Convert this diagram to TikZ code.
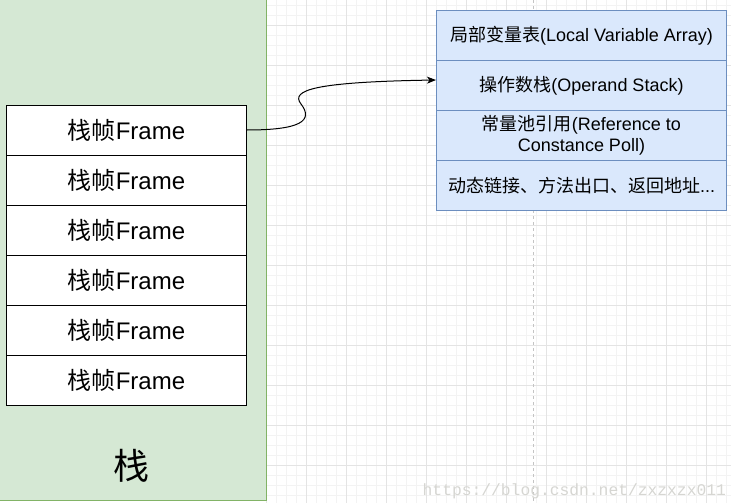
\documentclass[tikz,border=0pt]{standalone}
\usepackage{fontspec}
\setmainfont{Liberation Sans}
\newfontfamily\cjk{Noto Sans CJK SC}
\newfontfamily\wmfont{Liberation Mono}
\usetikzlibrary{arrows.meta}
\definecolor{gfill}{HTML}{D5E8D4}
\definecolor{gstroke}{HTML}{82B366}
\definecolor{bfill}{HTML}{DAE8FC}
\definecolor{bstroke}{HTML}{6C8EBF}
\definecolor{gridminor}{HTML}{F3F3F3}
\definecolor{gridmajor}{HTML}{E4E4E4}
\definecolor{pagebreak}{HTML}{C4C4C4}
\definecolor{wmgray}{HTML}{D6D6D2}
\tikzset{
  framebox/.style={draw=black, fill=white, line width=1pt, inner sep=0pt,
    minimum width=240pt, minimum height=50pt,
    font=\fontsize{24}{28}\selectfont},
  rowbox/.style={draw=bstroke, fill=bfill, line width=1pt, inner sep=0pt,
    minimum width=290pt, minimum height=50pt, align=center,
    font=\fontsize{18}{20.7}\selectfont},
  minorline/.style={draw=gridminor, line width=0.8pt},
  majorline/.style={draw=gridmajor, line width=0.8pt},
  link/.style={draw=black, line width=1pt, -{Stealth[length=9pt,width=7pt,inset=2.5pt]}},
}
\begin{document}
\begin{tikzpicture}[x=1pt, y=-1pt]
\useasboundingbox (0,0) rectangle (731,503);
\clip (0,0) rectangle (731,503);
\fill[white] (0,0) rectangle (731,503);
% grid
\foreach \x in {266,276,...,736} \draw[minorline] (\x,0) -- (\x,503);
\foreach \y in {5,15,...,505} \draw[minorline] (0,\y) -- (731,\y);
\foreach \x in {266,306,...,746} \draw[majorline] (\x,0) -- (\x,503);
\foreach \y in {25,65,...,505} \draw[majorline] (0,\y) -- (731,\y);
% page break line
\draw[pagebreak, line width=0.8pt, dash pattern=on 3pt off 3pt] (533.3,0) -- (533.3,503);
% stack container
\node[draw=gstroke, fill=gfill, line width=1pt, inner sep=0pt,
  minimum width=276.5pt, minimum height=510.5pt, anchor=south east] (stack) at (266.5,500.5) {};
\node[font=\fontsize{36}{40}\selectfont\cjk] (stacklabel) at (131.5,466) {栈};
% frames
\node[framebox] (f1) at (126.5,130) {{\cjk 栈帧}Frame};
\node[framebox] (f2) at (126.5,180) {{\cjk 栈帧}Frame};
\node[framebox] (f3) at (126.5,230) {{\cjk 栈帧}Frame};
\node[framebox] (f4) at (126.5,280) {{\cjk 栈帧}Frame};
\node[framebox] (f5) at (126.5,330) {{\cjk 栈帧}Frame};
\node[framebox] (f6) at (126.5,380) {{\cjk 栈帧}Frame};
% frame contents
\node[rowbox] (r1) at (581.5,35.5) {{\cjk 局部变量表}(Local Variable Array)};
\node[rowbox] (r2) at (581.5,85.5) {{\cjk 操作数栈}(Operand Stack)};
\node[rowbox] (r3) at (581.5,135.5) {{\cjk 常量池引用}(Reference to\\Constance Poll)};
\node[rowbox] (r4) at (581.5,185.5) {{\cjk 动态链接、方法出口、返回地址}...};
% connector
\coordinate (bend) at (301,104);
\draw[link] (f1.east) .. controls (300,130) and (314,121) .. (bend)
  .. controls (290,90) and (315,82) .. ([yshift=5.5pt]r2.west);
% watermark
\node[anchor=base west, inner sep=0pt, text=wmgray, font=\wmfont\fontsize{16.3}{18}\selectfont] (wm) at (422.5,495) {https://blog.csdn.net/zxzxzx011};
\end{tikzpicture}
\end{document}
